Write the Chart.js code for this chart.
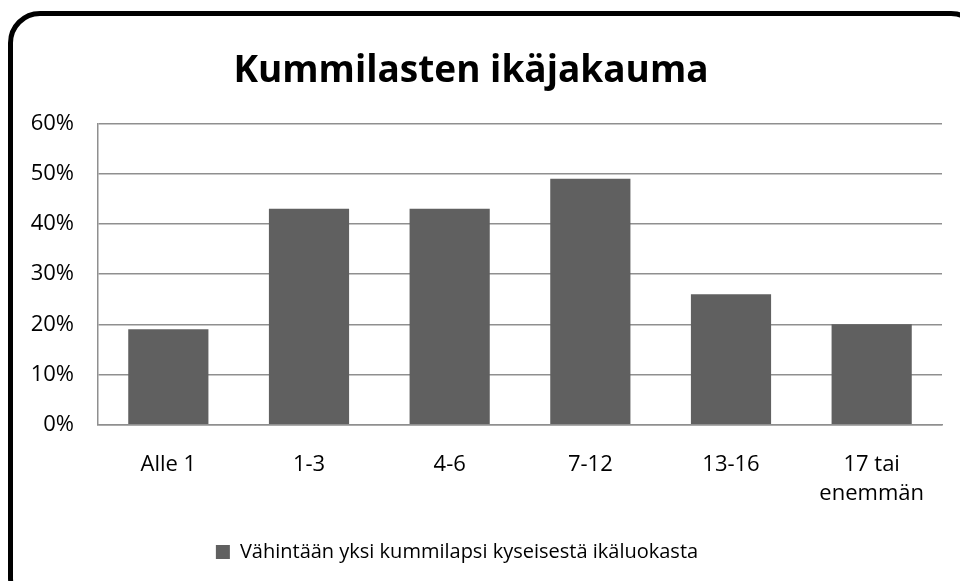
<!DOCTYPE html>
<html>
<head>
<meta charset="utf-8">
<script src="https://cdn.jsdelivr.net/npm/chart.js@4"></script>
<style>
    html, body { margin: 0; padding: 0; background: #fff; overflow: hidden; }
    #marco {
        position: absolute; left: 8px; top: 11px;
        width: 975px; height: 600px;
        border: 5px solid #000; border-radius: 32px;
        box-sizing: border-box;
    }
    #grafico { position: absolute; left: 0; top: 0; }
</style>
</head>
<body>
<div id="marco"></div>
<canvas id="grafico" width="960" height="581"></canvas>
<script>
// Datos del gráfico
const categorias = ['Alle 1', '1-3', '4-6', '7-12', '13-16', ['17 tai', 'enemmän']];
const valores = [19, 43, 43, 49, 26, 20];
const nombreSerie = 'Vähintään yksi kummilapsi kyseisestä ikäluokasta';
const titulo = 'Kummilasten ikäjakauma';

const fuente = "'Open Sans', 'Noto Sans', sans-serif";
const colorBarra = '#606060';
const colorRejilla = '#8f8f8f';

// Pequeño ajuste horizontal del título y la leyenda (como en el original)
const desplazarCajas = {
    id: 'desplazarCajas',
    afterLayout(chart) {
        chart.legend.left -= 20;
        chart.legend.right -= 20;
        chart.titleBlock.left -= 6;
        chart.titleBlock.right -= 6;
    }
};

const ctx = document.getElementById('grafico').getContext('2d');

new Chart(ctx, {
    type: 'bar',
    data: {
        labels: categorias,
        datasets: [{
            label: nombreSerie,
            data: valores,
            backgroundColor: colorBarra,
            borderWidth: 0,
            barPercentage: 0.57,
            categoryPercentage: 1.0
        }]
    },
    options: {
        responsive: false,
        animation: false,
        layout: { padding: { left: 12, right: 18, top: 0, bottom: 9 } },
        plugins: {
            title: {
                display: true,
                text: titulo,
                color: '#000',
                font: { family: fuente, size: 37, weight: 'bold' },
                padding: { top: 49, bottom: 30 }
            },
            legend: {
                position: 'bottom',
                labels: {
                    color: '#000',
                    font: { family: fuente, size: 20 },
                    boxWidth: 14,
                    boxHeight: 14,
                    padding: 8
                }
            },
            tooltip: { enabled: false }
        },
        scales: {
            y: {
                min: 0,
                max: 60,
                ticks: {
                    stepSize: 10,
                    color: '#000',
                    padding: 24,
                    font: { family: fuente, size: 22 },
                    callback: v => v + '%'
                },
                grid: { color: colorRejilla, lineWidth: 1.5, drawTicks: false },
                border: { color: colorRejilla, width: 1.5 },
                afterFit: s => { s.width = 86; }
            },
            x: {
                ticks: {
                    color: '#000',
                    padding: 26,
                    maxRotation: 0,
                    font: { family: fuente, size: 22, lineHeight: 1.3 }
                },
                grid: { display: false, drawTicks: false },
                border: { color: colorRejilla, width: 1.5 }
            }
        }
    },
    plugins: [desplazarCajas]
});
</script>
</body>
</html>
